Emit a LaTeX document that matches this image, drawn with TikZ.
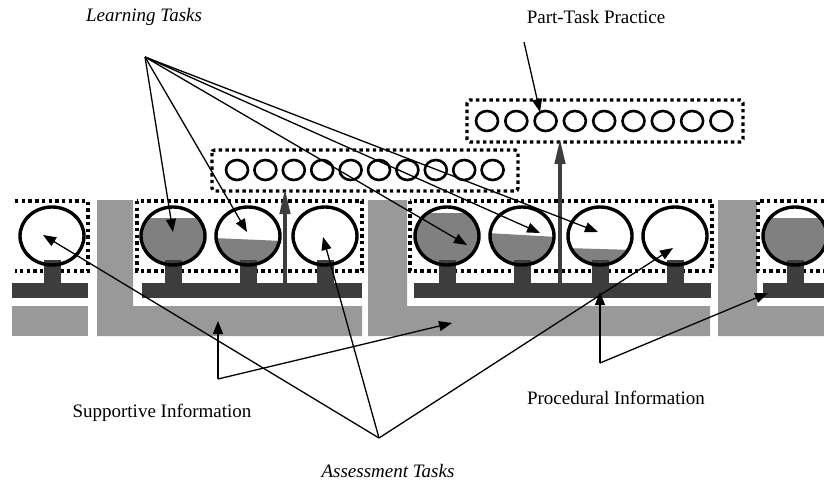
\documentclass[tikz,border=0pt]{standalone}
\usepackage{fontspec}
\setmainfont{Liberation Serif}
\usetikzlibrary{arrows.meta}

\definecolor{bardark}{gray}{0.24}
\definecolor{barlight}{gray}{0.60}
\definecolor{fillgray}{gray}{0.50}

\tikzset{
  dotbox/.style={line width=3.4, dash pattern=on 3.4 off 3.3},
  taskring/.style={line width=3.4},
  partring/.style={line width=2.6},
  pointer/.style={line width=1.3, -{Triangle[length=13,width=10]}},
  partarrow/.style={line width=4, bardark, -{Triangle[length=26,width=10]}},
  infotext/.style={font=\fontsize{19}{22}\selectfont},
  tasktext/.style={font=\fontsize{19}{22}\selectfont\itshape},
}

\begin{document}
\begin{tikzpicture}[x=1pt,y=-1pt]
    \clip (0,0) rectangle (824,484);
    \useasboundingbox (0,0) rectangle (824,484);

    % task circle on its stem: x, fill top at left, fill top at right
    \def\taskwheel#1#2#3{%
      \begin{scope}
        \clip (#1,236) ellipse (32 and 29);
        \fill[fillgray] (#1-35,#2) -- (#1+35,#3) -- (#1+35,270) -- (#1-35,270) -- cycle;
      \end{scope}
      \fill[bardark] (#1-8.5,260) rectangle (#1+8.5,284);
      \draw[taskring] (#1,236) ellipse (32 and 29);
    }

    %Left part
    \fill[barlight] (12,306) rectangle (88,336);
    \fill[bardark] (12,283) rectangle (88,298);
    \draw[dotbox] (15,201) -- (88,201) -- (88,271) -- (15,271);
    \taskwheel{52}{270}{270}

    %Second class
    \fill[barlight] (97,200) -- (133,200) -- (133,306) -- (362,306) -- (362,336) -- (97,336) -- cycle;
    \fill[bardark] (142,283) rectangle (362,298);
    \draw[dotbox] (137,201) rectangle (362,271);
    \taskwheel{173}{218}{218}
    \taskwheel{248}{238}{241}
    \taskwheel{325}{270}{270}

    %Third class
    \fill[barlight] (368,200) -- (407,200) -- (407,306) -- (710,306) -- (710,336) -- (368,336) -- cycle;
    \fill[bardark] (414,283) rectangle (711,298);
    \draw[dotbox] (410,201) rectangle (712,271);
    \taskwheel{447}{213}{213}
    \taskwheel{522}{233}{237}
    \taskwheel{600}{248}{250}
    \taskwheel{675}{270}{270}

    %Right part
    \fill[barlight] (718,200) -- (757,200) -- (757,306) -- (824,306) -- (824,336) -- (718,336) -- cycle;
    \fill[bardark] (763,283) rectangle (824,298);
    \draw[dotbox] (824,201) -- (758,201) -- (758,271) -- (824,271);
    \taskwheel{795}{218}{218}

    %Part-task practice
    \draw[dotbox, rounded corners=3] (212,150) rectangle (518,191);
    \foreach \i in {0,...,9}
        \draw[partring] (237+\i*28.4,170) ellipse (11 and 10);
    \draw[dotbox, rounded corners=3] (467,100) rectangle (743,142);
    \foreach \i in {0,...,8}
        \draw[partring] (487+\i*29.3,121) ellipse (11 and 10);

    \coordinate (bar2) at (285,283);
    \coordinate (row1) at (285,188);
    \coordinate (bar3) at (560,283);
    \coordinate (row2) at (560,138);
    \draw[partarrow] (bar2) -- (row1);
    \draw[partarrow] (bar3) -- (row2);

    %Labels
    \node[tasktext] (learn) at (144,17) {Learning Tasks};
    \node[infotext] (parttask) at (596,17) {Part-Task Practice};
    \node[infotext] (support) at (162,413) {Supportive Information};
    \node[infotext] (proced) at (616,398) {Procedural Information};
    \node[tasktext] (assess) at (388,471) {Assessment Tasks};

    %Learning tasks
    \coordinate (ltfan) at (145,57);
    \coordinate (lt1) at (173,232);
    \coordinate (lt2) at (247,232);
    \coordinate (lt3) at (467,245);
    \coordinate (lt4) at (540,233);
    \coordinate (lt5) at (598,232);
    \foreach \t in {lt1,lt2,lt3,lt4,lt5}
        \draw[pointer] (ltfan) -- (\t);

    %Part-task practice
    \coordinate (ptstart) at (524,42);
    \coordinate (ptring) at (540,112);
    \draw[pointer] (ptstart) -- (ptring);

    %Supportive information
    \coordinate (sifan) at (218,379);
    \coordinate (si1) at (218,321);
    \coordinate (si2) at (452,323);
    \draw[pointer] (sifan) -- (si1);
    \draw[pointer] (sifan) -- (si2);

    %Procedural information
    \coordinate (pifan) at (600,363);
    \coordinate (pi1) at (600,292);
    \coordinate (pi2) at (768,293);
    \draw[pointer] (pifan) -- (pi1);
    \draw[pointer] (pifan) -- (pi2);

    %Assessment tasks
    \coordinate (atfan) at (379,438);
    \coordinate (at1) at (43,235);
    \coordinate (at2) at (323,237);
    \coordinate (at3) at (673,248);
    \foreach \t in {at1,at2,at3}
        \draw[pointer] (atfan) -- (\t);
\end{tikzpicture}
\end{document}
